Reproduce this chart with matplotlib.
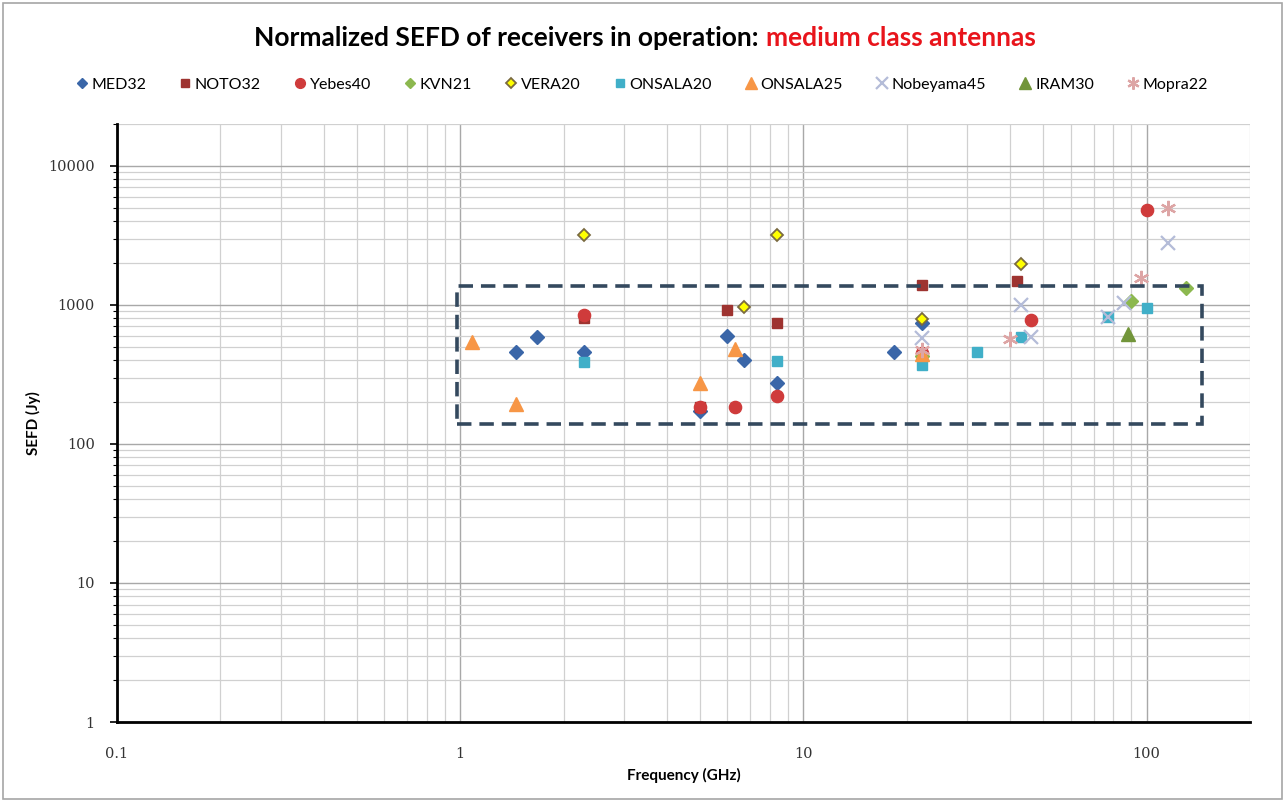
import matplotlib
matplotlib.use('Agg')
import matplotlib.pyplot as plt
from matplotlib.ticker import FixedLocator, LogLocator, NullFormatter
from matplotlib.patches import Rectangle

# Frequency (GHz) and normalized SEFD (Jy) per station
med32_f = [1.45, 1.67, 2.3, 5.0, 6.0, 6.7, 8.4, 18.3, 22.2]
med32_s = [460, 590, 460, 172, 600, 400, 275, 460, 740]
noto32_f = [2.3, 5.0, 6.0, 8.4, 22.2, 42]
noto32_s = [800, 185, 920, 740, 1380, 1490]
yebes40_f = [2.3, 5.0, 6.3, 8.4, 22.2, 46, 100]
yebes40_s = [850, 185, 185, 220, 450, 780, 4800]
kvn21_f = [22.2, 90, 130]
kvn21_s = [430, 1070, 1320]
vera20_f = [2.3, 6.7, 8.4, 22.2, 43]
vera20_s = [3200, 960, 3200, 790, 1960]
onsala20_f = [2.3, 8.4, 22.2, 32, 43, 77, 100]
onsala20_s = [390, 395, 370, 460, 585, 820, 950]
onsala25_f = [1.08, 1.45, 5.0, 6.3, 22.2]
onsala25_s = [540, 195, 275, 480, 440]
nobeyama45_f = [22.2, 43, 46, 77, 86, 115]
nobeyama45_s = [575, 1000, 585, 820, 1030, 2800]
iram30_f = [88]
iram30_s = [620]
mopra22_f = [22.2, 40, 96, 115]
mopra22_s = [474, 565, 1550, 5000]

W, H = 1285, 802
fig = plt.figure(figsize=(W / 100, H / 100), dpi=100)
fig.patch.set_facecolor('white')
ax = fig.add_axes([117 / W, 80 / H, (1250 - 117) / W, (722 - 124) / H])

ax.set_xscale('log')
ax.set_yscale('log')
ax.set_xlim(0.1, 200)
ax.set_ylim(1, 20000)

asterisk = (6, 2, 0)
series = [
    ('MED32', med32_f, med32_s, dict(marker='D', ms=7, color='#3A66A8', mec='#3A66A8')),
    ('NOTO32', noto32_f, noto32_s, dict(marker='s', ms=7, color='#9E3330', mec='#9E3330')),
    ('Yebes40', yebes40_f, yebes40_s, dict(marker='o', ms=8.8, color='#CF3B3B', mec='#CF3B3B')),
    ('KVN21', kvn21_f, kvn21_s, dict(marker='D', ms=7, color='#8CB84F', mec='#8CB84F')),
    ('VERA20', vera20_f, vera20_s, dict(marker='D', ms=6.4, color='#FFFF00', mec='#7A6A40', mew=1.3)),
    ('ONSALA20', onsala20_f, onsala20_s, dict(marker='s', ms=7, color='#40AFC8', mec='#40AFC8')),
    ('ONSALA25', onsala25_f, onsala25_s, dict(marker='^', ms=10, color='#F79646', mec='#F79646')),
    ('Nobeyama45', nobeyama45_f, nobeyama45_s, dict(marker='x', ms=10, color='#B4BCD8', mew=1.6)),
    ('IRAM30', iram30_f, iram30_s, dict(marker='^', ms=10, color='#72953A', mec='#72953A')),
    ('Mopra22', mopra22_f, mopra22_s, dict(marker=asterisk, ms=11, color='#DDA5A5', mew=1.6)),
]
for name, f, s, st in series:
    ax.plot(f, s, ls='none', label=name, zorder=3, **st)

# region of interest
ax.add_patch(Rectangle((0.98, 139), 144.5 - 0.98, 1359 - 139, fill=False,
                       ec='#34495E', lw=2.6, ls=(0, (4, 2.2)), zorder=4))

# ticks and grid
ax.xaxis.set_major_locator(FixedLocator([0.1, 1, 10, 100]))
ax.set_xticklabels(['0.1', '1', '10', '100'])
ax.yaxis.set_major_locator(FixedLocator([1, 10, 100, 1000, 10000]))
ax.set_yticklabels(['1', '10', '100', '1000', '10000'])
for a in (ax.xaxis, ax.yaxis):
    a.set_minor_locator(LogLocator(base=10, subs=range(2, 10), numticks=20))
    a.set_minor_formatter(NullFormatter())
ax.grid(which='major', color='#A8A8A8', lw=1.0, zorder=0)
ax.grid(which='minor', color='#D0D0D0', lw=0.9, zorder=0)
ax.set_axisbelow(True)

for sp in ('top', 'right'):
    ax.spines[sp].set_visible(False)
for sp in ('left', 'bottom'):
    ax.spines[sp].set_linewidth(2.0)
    ax.spines[sp].set_color('black')
ax.tick_params(which='major', axis='y', direction='out', length=5, width=1.2, pad=11)
ax.tick_params(which='minor', axis='y', direction='out', length=3, width=0.8)
ax.tick_params(which='both', axis='x', length=0, pad=18)
for lab in ax.get_xticklabels() + ax.get_yticklabels():
    lab.set_fontfamily('DejaVu Serif')
    lab.set_fontsize(10.5)
    lab.set_color('#333333')

ax.set_xlabel('Frequency (GHz)', fontsize=11, fontweight='bold', family='Lato', labelpad=5)
ax.set_ylabel('SEFD (Jy)', fontsize=11, fontweight='bold', family='Lato', labelpad=5)

fig.legend(loc='center', bbox_to_anchor=(0.5, 1 - 85 / H), ncol=10, frameon=False,
           prop={'family': 'Lato', 'size': 11.5}, handlelength=0.6, handletextpad=0.3,
           columnspacing=2.15, markerscale=0.8, borderaxespad=0)

# two-colour title
ty = 1 - 38 / H
fig.canvas.draw()
r = fig.canvas.get_renderer()
t1 = fig.text(0, ty, 'Normalized SEFD of receivers in operation:', fontsize=19,
              fontweight='bold', family='Lato', va='center')
t2 = fig.text(0, ty, 'medium class antennas', fontsize=19, fontweight='bold',
              family='Lato', color='#E8141B', va='center')
w1 = t1.get_window_extent(r).width
w2 = t2.get_window_extent(r).width
gap = 7
x0 = 645 - (w1 + gap + w2) / 2
t1.set_x(x0 / W)
t2.set_x((x0 + w1 + gap) / W)

# outer chart border
fig.add_artist(Rectangle((3 / W, 3 / H), (W - 6) / W, (H - 6) / H, transform=fig.transFigure,
                         fill=False, ec='#A6A6A6', lw=1.2))

fig.savefig('out.png', dpi=100)
